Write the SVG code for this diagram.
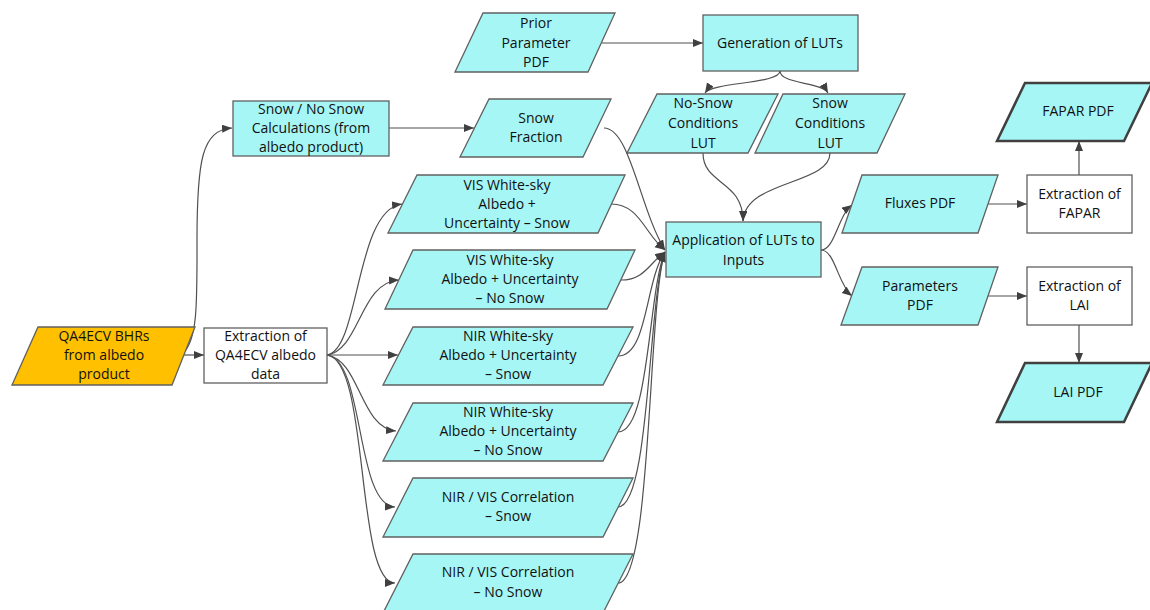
<svg xmlns="http://www.w3.org/2000/svg" width="1150" height="610" viewBox="0 0 1150 610">
<defs>
<marker id="ah" markerWidth="11" markerHeight="9" refX="10" refY="4" orient="auto" markerUnits="userSpaceOnUse">
<path d="M0,0 L10,4 L0,8 z" fill="#404040"/>
</marker>
<style>
.c{fill:#A6F6F6;stroke:#606060;stroke-width:1.3}
.w{fill:#FFFFFF;stroke:#606060;stroke-width:1.3}
.o{fill:#FFC000;stroke:#606060;stroke-width:1.3}
.b{fill:#A6F6F6;stroke:#404040;stroke-width:2.5}
text{font-family:"Open Sans","Noto Sans",sans-serif;font-size:14px;fill:#111111;text-anchor:middle}
.e path{fill:none;stroke:#505050;stroke-width:1.2;marker-end:url(#ah)}
</style>
</defs>
<rect width="1150" height="610" fill="#FFFFFF"/>

<g class="e" id="connectors">
<path d="M602,43 L703,43"/>
<path d="M780,71 C780,84 712,82 705,93"/>
<path d="M780,71 C780,84 822,82 828,93"/>
<path d="M389,128 L474,128"/>
<path d="M183,353 C198,340 197,300 197,240 C197,160 202,130 232,128"/>
<path d="M183,355 L204,355"/>
<path d="M327,355 C360,350 355,210 402,204"/>
<path d="M327,355 C360,350 360,282 399,280"/>
<path d="M327,355 L398,355"/>
<path d="M327,355 C360,360 360,428 396,431"/>
<path d="M327,355 C365,360 355,505 395,507"/>
<path d="M327,355 C370,360 355,583 395,583"/>
<path d="M604,128 C630,128 640,210 665,250"/>
<path d="M611,204 C640,204 645,235 665,250"/>
<path d="M621,280 C645,280 650,262 665,252"/>
<path d="M618,356 C648,356 645,280 665,252"/>
<path d="M618,432 C650,432 648,290 665,252"/>
<path d="M618,507 C650,507 648,300 665,252"/>
<path d="M618,583 C652,583 648,300 665,252"/>
<path d="M703,153 C703,185 743,180 743,221"/>
<path d="M830,153 C830,185 745,180 743,221"/>
<path d="M821,250 C835,250 838,215 852,205"/>
<path d="M821,250 C835,250 838,285 852,296"/>
<path d="M988,204 L1027,204"/>
<path d="M988,296 L1027,296"/>
<path d="M1079,175 L1079,141"/>
<path d="M1079,325 L1079,363"/>
</g>

<g id="prior">
<polygon class="c" points="483,13 615,13 588,72 455,72"/>
<text x="536" y="28">Prior</text><text x="536" y="48">Parameter</text><text x="536" y="67">PDF</text>
</g>
<g id="genluts">
<rect class="c" x="703" y="15" width="155" height="56"/>
<text x="780" y="48">Generation of LUTs</text>
</g>
<g id="nosnowlut">
<polygon class="c" points="657,94 778,94 748,153 627,153"/>
<text x="703" y="108">No-Snow</text><text x="703" y="128">Conditions</text><text x="703" y="148">LUT</text>
</g>
<g id="snowlut">
<polygon class="c" points="783,94 905,94 877,153 755,153"/>
<text x="830" y="108">Snow</text><text x="830" y="128">Conditions</text><text x="830" y="148">LUT</text>
</g>
<g id="snowfraction">
<polygon class="c" points="489,99 611,99 583,157 460,157"/>
<text x="536" y="123">Snow</text><text x="536" y="142">Fraction</text>
</g>
<g id="snowcalc">
<rect class="c" x="233" y="101" width="156" height="55"/>
<text x="311" y="114">Snow / No Snow</text><text x="311" y="133">Calculations (from</text><text x="311" y="152">albedo product)</text>
</g>
<g id="qa4ecv">
<polygon class="o" points="38,327 195,327 172,385 12,385"/>
<text x="104" y="341">QA4ECV BHRs</text><text x="104" y="360">from albedo</text><text x="104" y="379">product</text>
</g>
<g id="extraction">
<rect class="w" x="204" y="328" width="123" height="55"/>
<text x="265.5" y="341">Extraction of</text><text x="265.5" y="360">QA4ECV albedo</text><text x="265.5" y="379">data</text>
</g>
<g id="vissnow">
<polygon class="c" points="417,175 625,175 598,233 388,233"/>
<text x="507" y="190">VIS White-sky</text><text x="507" y="209">Albedo +</text><text x="507" y="228">Uncertainty – Snow</text>
</g>
<g id="visnosnow">
<polygon class="c" points="413,250 635,250 607,309 385,309"/>
<text x="510" y="265">VIS White-sky</text><text x="510" y="284">Albedo + Uncertainty</text><text x="510" y="303">– No Snow</text>
</g>
<g id="nirsnow">
<polygon class="c" points="413,327 633,327 603,385 383,385"/>
<text x="508" y="341">NIR White-sky</text><text x="508" y="360">Albedo + Uncertainty</text><text x="508" y="379">– Snow</text>
</g>
<g id="nirnosnow">
<polygon class="c" points="413,403 633,403 603,461 383,461"/>
<text x="508" y="417">NIR White-sky</text><text x="508" y="436">Albedo + Uncertainty</text><text x="508" y="455">– No Snow</text>
</g>
<g id="corrsnow">
<polygon class="c" points="413,478 633,478 603,537 383,537"/>
<text x="508" y="502">NIR / VIS Correlation</text><text x="508" y="521">– Snow</text>
</g>
<g id="corrnosnow">
<polygon class="c" points="413,554 633,554 603,613 383,613"/>
<text x="508" y="577">NIR / VIS Correlation</text><text x="508" y="597">– No Snow</text>
</g>
<g id="application">
<rect class="c" x="666" y="222" width="155" height="55"/>
<text x="743.5" y="245">Application of LUTs to</text><text x="743.5" y="265">Inputs</text>
</g>
<g id="fluxes">
<polygon class="c" points="862,175 998,175 978,233 842,233"/>
<text x="920" y="208">Fluxes PDF</text>
</g>
<g id="parameters">
<polygon class="c" points="862,267 998,267 978,325 841,325"/>
<text x="920" y="291">Parameters</text><text x="920" y="310">PDF</text>
</g>
<g id="extfapar">
<rect class="w" x="1027" y="175" width="105" height="58"/>
<text x="1079.5" y="199">Extraction of</text><text x="1079.5" y="218">FAPAR</text>
</g>
<g id="extlai">
<rect class="w" x="1027" y="267" width="105" height="58"/>
<text x="1079.5" y="291">Extraction of</text><text x="1079.5" y="310">LAI</text>
</g>
<g id="faparpdf">
<polygon class="b" points="1025,83 1152,83 1124,141 997,141"/>
<text x="1078" y="116">FAPAR PDF</text>
</g>
<g id="laipdf">
<polygon class="b" points="1025,363 1152,363 1124,422 997,422"/>
<text x="1078" y="397">LAI PDF</text>
</g>
</svg>
